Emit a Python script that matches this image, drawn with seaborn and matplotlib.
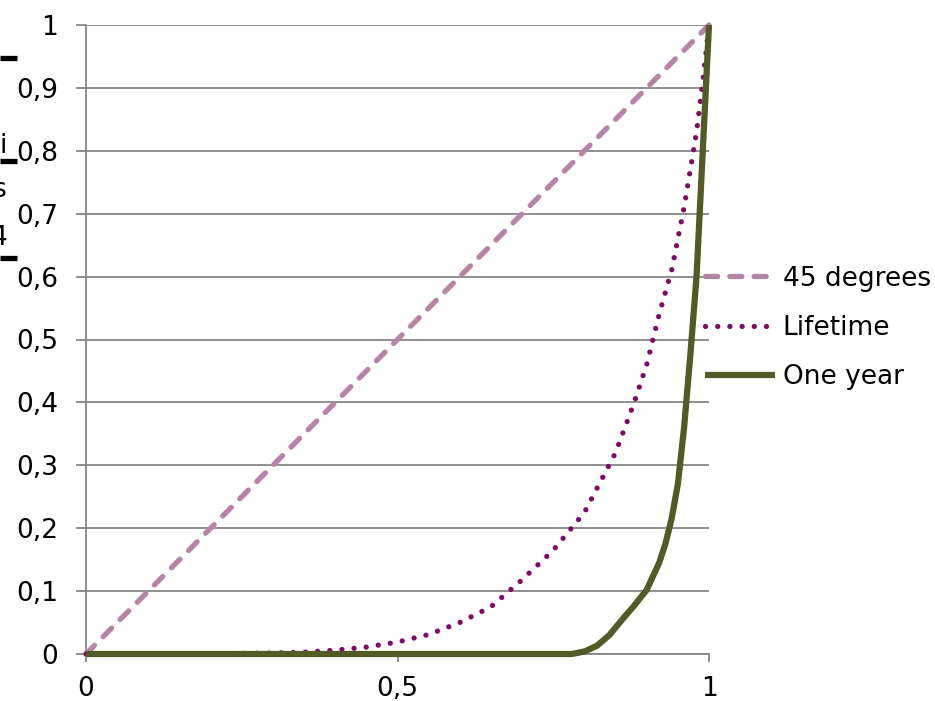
import matplotlib
matplotlib.use("Agg")
import matplotlib.pyplot as plt
import seaborn as sns
import pandas as pd
from matplotlib.lines import Line2D

# Cumulative share curves
diag_x = [0.0, 1.0]
diag_y = [0.0, 1.0]

lifetime_x = [0.0, 0.1, 0.2, 0.3, 0.35, 0.4, 0.45, 0.5, 0.55, 0.6, 0.65, 0.7,
              0.75, 0.8, 0.85, 0.88, 0.9, 0.92, 0.94, 0.96, 0.98, 0.99, 1.0]
lifetime_y = [0.0, 0.0, 0.0003, 0.0015, 0.003, 0.006, 0.011, 0.019, 0.031, 0.05,
              0.075, 0.118, 0.165, 0.225, 0.32, 0.40, 0.46, 0.54, 0.61, 0.71,
              0.83, 0.91, 1.0]

oneyear_x = [0.0, 0.78, 0.80, 0.82, 0.84, 0.86, 0.88, 0.90, 0.92, 0.93, 0.94,
             0.95, 0.96, 0.97, 0.98, 0.99, 1.0]
oneyear_y = [0.0, 0.0, 0.004, 0.013, 0.03, 0.054, 0.077, 0.102, 0.145, 0.175,
             0.215, 0.27, 0.36, 0.475, 0.60, 0.80, 1.0]

series_names = ["45 degrees", "Lifetime", "One year"]

y_ticks = [0, 0.1, 0.2, 0.3, 0.4, 0.5, 0.6, 0.7, 0.8, 0.9, 1.0]
y_tick_labels = ["0", "0,1", "0,2", "0,3", "0,4", "0,5", "0,6", "0,7", "0,8", "0,9", "1"]
x_ticks = [0, 0.5, 1.0]
x_tick_labels = ["0", "0,5", "1"]

sns.set_theme(style="white")
plt.rcParams["font.family"] = ["DejaVu Sans"]
plt.rcParams["text.color"] = "black"

W, H = 935, 701
FS = 19
fig = plt.figure(figsize=(W / 100, H / 100), dpi=100)
ax = fig.add_axes([86 / W, 47 / H, 623 / W, 629 / H])

grey = "#878787"
df_diag = pd.DataFrame({"x": diag_x, "y": diag_y})
df_life = pd.DataFrame({"x": lifetime_x, "y": lifetime_y})
df_one = pd.DataFrame({"x": oneyear_x, "y": oneyear_y})

sns.lineplot(data=df_diag, x="x", y="y", ax=ax, sort=False, color="#B784A6",
             linewidth=3.8, linestyle=(0, (2.3, 2.3)), dash_capstyle="round",
             label=series_names[0], clip_on=False, zorder=3)
sns.lineplot(data=df_life, x="x", y="y", ax=ax, sort=False, color="#7F0A66",
             linewidth=3.8, linestyle=(0, (0.01, 2.3)), dash_capstyle="round",
             label=series_names[1], clip_on=False, zorder=4)
sns.lineplot(data=df_one, x="x", y="y", ax=ax, sort=False, color="#525A25",
             linewidth=4.5, solid_capstyle="butt",
             label=series_names[2], clip_on=False, zorder=5)

ax.set_xlim(0, 1)
ax.set_ylim(0, 1)
ax.set_xlabel("")
ax.set_ylabel("")
ax.set_yticks(y_ticks)
ax.set_yticklabels(y_tick_labels)
ax.set_xticks(x_ticks)
ax.set_xticklabels(x_tick_labels)

ax.yaxis.grid(True, color=grey, linewidth=1.3)
ax.xaxis.grid(False)
for side in ["top", "right"]:
    ax.spines[side].set_visible(False)
for side in ["left", "bottom"]:
    ax.spines[side].set_color(grey)
    ax.spines[side].set_linewidth(1.3)

ax.tick_params(axis="y", which="major", left=True, length=7, width=1.3,
               color=grey, pad=13, labelsize=FS, labelcolor="black")
ax.tick_params(axis="x", which="major", bottom=True, length=6, width=1.3,
               color=grey, pad=10, labelsize=FS, labelcolor="black")

leg = ax.legend(loc="center left", bbox_to_anchor=(705 / W, 1 - 328 / H),
                bbox_transform=fig.transFigure, frameon=False, fontsize=FS,
                handlelength=2.65, handletextpad=0.3, labelspacing=0.89,
                borderpad=0, borderaxespad=0)
for t in leg.get_texts():
    t.set_color("black")

# Partial fraction label at the left edge
for yb in (58, 161, 258):
    fig.add_artist(Line2D([0, 17 / W], [1 - yb / H, 1 - yb / H],
                          transform=fig.transFigure, color="black",
                          linewidth=3.8, solid_capstyle="butt"))
fig.text(3.5 / W, 1 - 146 / H, "i", fontsize=FS, ha="center", va="center")
fig.text(-1 / W, 1 - 190 / H, "s", fontsize=FS, ha="center", va="center")
fig.text(-1 / W, 1 - 238 / H, "4", fontsize=FS, ha="center", va="center")

fig.savefig("out.png", dpi=100)
